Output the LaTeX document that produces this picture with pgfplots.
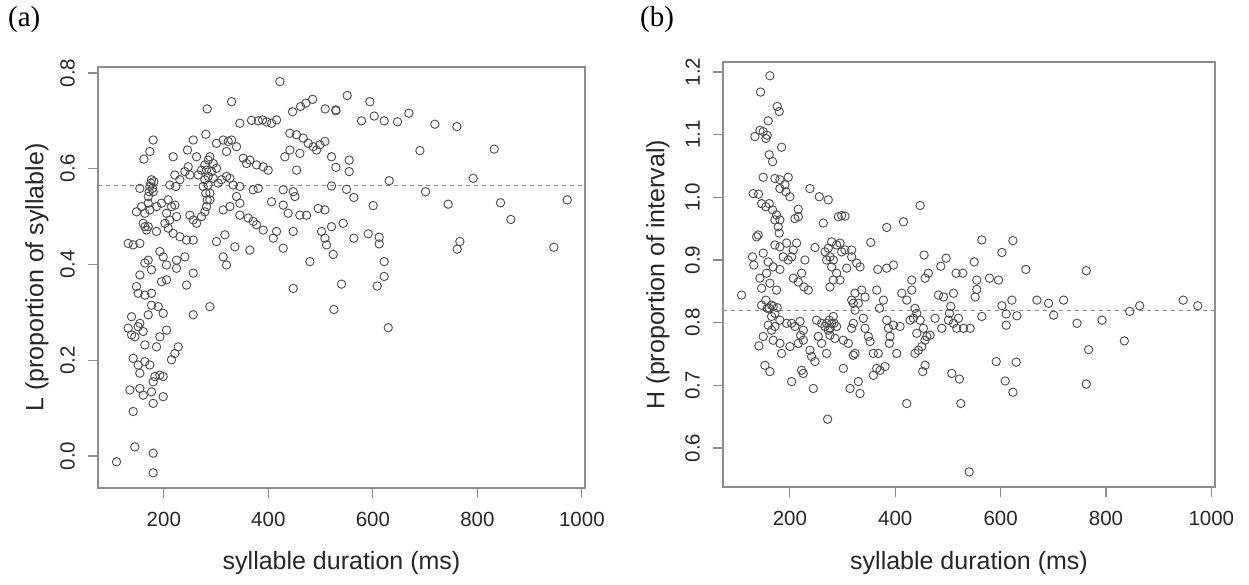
\documentclass[border=0pt]{standalone}
\usepackage{pgfplots}
\pgfplotsset{compat=1.18}
\usepackage{fontspec}
\setmainfont{Liberation Sans}
\newfontfamily\seriffont{Liberation Serif}
\definecolor{boxgray}{gray}{0.55}
\definecolor{ptgray}{gray}{0.3}
\pgfplotsset{rstyle/.style={
  scale only axis, anchor=south west,
  axis line style={draw=boxgray, line width=1.1pt},
  every tick/.style={draw=boxgray, line width=1.1pt},
  tick align=outside, major tick length=10pt,
  xtick pos=left, ytick pos=left, minor tick num=0,
  /pgf/number format/assume math mode=true,
  /pgf/number format/1000 sep={},
  tick label style={font=\fontsize{20.5}{20.5}\selectfont, text=black!85, inner sep=0pt},
  yticklabel style={rotate=90, anchor=south, /pgf/number format/fixed, /pgf/number format/fixed zerofill, /pgf/number format/precision=1},
  xticklabel style={anchor=north},
  yticklabel shift=13pt, xticklabel shift=14pt,
  xtick={200,400,600,800,1000},
  clip=false,
}}
\begin{document}
\begin{tikzpicture}
\path[use as bounding box] (0,0) rectangle (1249pt,584pt);
\begin{axis}[rstyle, at={(98pt,96pt)}, width=487pt, height=421pt,
  xmin=74, xmax=1006, ymin=-0.0668, ymax=0.8125,
  ytick={0,0.2,0.4,0.6,0.8}]
\addplot[boxgray, line width=1pt, dash pattern=on 4pt off 4pt] coordinates {(74,0.564) (1006,0.564)};
\addplot[only marks, mark=o, mark size=4.2pt, mark options={draw=ptgray, line width=0.9pt}] table {
x y
550.9 0.753
594.3 0.740
529.2 0.723
578.3 0.700
602.6 0.710
621.7 0.700
647.2 0.698
668.9 0.716
718.7 0.693
760.8 0.688
690.0 0.638
832.2 0.641
520.9 0.625
554.7 0.618
529.2 0.603
554.7 0.594
631.3 0.575
792.0 0.580
520.9 0.564
549.6 0.557
563.6 0.540
700.8 0.552
600.6 0.523
744.2 0.526
844.4 0.529
972.0 0.535
864.1 0.494
543.2 0.486
520.9 0.479
563.6 0.455
591.1 0.464
612.1 0.457
612.1 0.443
766.5 0.448
761.4 0.432
946.4 0.436
524.1 0.421
621.7 0.406
621.7 0.375
608.3 0.355
540.0 0.359
525.4 0.306
629.4 0.268
422.1 0.782
329.6 0.740
283.0 0.725
446.3 0.719
461.6 0.730
471.8 0.737
484.6 0.745
508.8 0.725
529.2 0.721
345.5 0.695
367.8 0.701
380.6 0.700
388.9 0.702
396.5 0.698
406.1 0.695
415.7 0.702
179.6 0.660
256.2 0.660
280.4 0.672
173.2 0.636
161.8 0.620
217.9 0.625
245.3 0.639
262.6 0.625
300.8 0.653
313.6 0.660
323.2 0.657
329.6 0.660
339.1 0.646
320.0 0.636
441.2 0.674
453.9 0.671
466.7 0.664
476.3 0.653
485.9 0.646
498.6 0.650
508.2 0.657
492.2 0.639
431.6 0.625
441.2 0.639
460.3 0.632
284.9 0.618
278.5 0.608
288.1 0.625
294.5 0.611
272.1 0.597
265.8 0.587
291.3 0.594
300.8 0.601
351.9 0.622
358.3 0.611
364.6 0.618
377.4 0.608
390.2 0.604
399.7 0.597
246.6 0.604
240.2 0.594
249.8 0.587
221.1 0.587
230.7 0.577
211.5 0.566
223.0 0.563
454.0 0.597
176.4 0.577
173.2 0.563
179.6 0.552
170.1 0.542
154.1 0.559
278.5 0.577
284.9 0.566
294.5 0.580
304.0 0.570
310.4 0.577
320.0 0.584
326.4 0.580
332.7 0.566
345.5 0.563
371.0 0.556
380.6 0.559
428.4 0.556
447.6 0.552
450.8 0.542
147.7 0.510
157.3 0.521
163.7 0.507
173.2 0.514
186.0 0.521
170.1 0.528
195.6 0.528
208.3 0.535
214.7 0.521
221.1 0.524
205.1 0.507
211.5 0.493
202.0 0.486
224.3 0.500
249.8 0.503
256.2 0.493
262.6 0.486
272.1 0.500
281.7 0.521
288.1 0.535
278.5 0.510
313.6 0.514
326.4 0.521
339.1 0.542
345.5 0.528
406.1 0.531
428.4 0.524
438.0 0.507
460.3 0.503
473.1 0.503
495.4 0.517
508.2 0.514
345.5 0.503
361.5 0.497
371.0 0.490
377.4 0.483
390.2 0.472
163.7 0.479
166.9 0.472
186.0 0.469
208.3 0.476
217.9 0.465
230.7 0.458
243.4 0.451
256.2 0.451
300.8 0.448
316.8 0.462
335.9 0.437
364.6 0.430
409.3 0.455
415.7 0.469
447.6 0.469
428.4 0.434
501.8 0.469
508.2 0.455
511.4 0.441
479.5 0.406
131.8 0.444
141.3 0.441
154.1 0.444
192.4 0.427
198.8 0.416
224.3 0.409
240.2 0.416
170.1 0.409
163.7 0.403
176.4 0.389
205.1 0.399
224.3 0.392
256.2 0.382
243.4 0.357
313.6 0.416
320.0 0.399
154.1 0.378
147.7 0.354
150.9 0.340
163.7 0.336
176.4 0.340
195.6 0.364
205.1 0.368
447.6 0.350
288.1 0.312
256.2 0.295
176.4 0.315
189.2 0.312
198.8 0.298
138.2 0.291
154.1 0.277
170.1 0.295
131.8 0.267
138.2 0.253
144.5 0.249
160.5 0.260
150.9 0.270
163.7 0.232
186.0 0.228
205.1 0.263
192.4 0.249
227.5 0.228
221.1 0.214
214.7 0.201
141.3 0.204
150.9 0.190
163.7 0.197
173.2 0.190
154.1 0.173
182.8 0.166
192.4 0.169
179.6 0.155
198.8 0.166
135.0 0.138
154.1 0.141
160.5 0.127
176.4 0.134
179.6 0.110
198.8 0.124
141.3 0.093
144.5 0.019
179.6 0.006
109.4 -0.012
179.6 -0.035
175.2 0.570
178.3 0.559
171.9 0.552
180.9 0.573
281.7 0.597
284.9 0.584
280.4 0.549
283.0 0.535
275.3 0.563
288.1 0.549
160.5 0.486
170.1 0.479
};
\end{axis}
\begin{axis}[rstyle, at={(723pt,97pt)}, width=492pt, height=425pt,
  xmin=73, xmax=1007, ymin=0.5378, ymax=1.216,
  ytick={0.6,0.7,0.8,0.9,1.0,1.1,1.2}]
\addplot[boxgray, line width=1pt, dash pattern=on 4pt off 4pt] coordinates {(73,0.820) (1007,0.820)};
\addplot[only marks, mark=o, mark size=4.2pt, mark options={draw=ptgray, line width=0.9pt}] table {
x y
162.0 1.194
144.3 1.168
175.9 1.145
179.7 1.137
158.8 1.122
149.3 1.105
143.0 1.107
133.5 1.097
154.4 1.094
156.9 1.099
184.2 1.080
160.7 1.068
167.1 1.057
130.3 1.006
140.5 1.005
149.3 1.032
171.5 1.030
181.0 1.028
190.5 1.020
196.8 1.032
181.0 1.014
192.4 1.009
200.0 1.001
238.0 1.014
255.8 1.001
272.9 0.996
263.4 0.959
146.2 0.990
154.4 0.985
160.7 0.990
167.1 0.980
174.7 0.972
181.0 0.964
171.5 0.964
177.8 0.953
179.7 0.943
136.7 0.937
139.8 0.940
215.9 0.981
215.9 0.969
209.5 0.966
298.2 0.971
304.6 0.970
291.9 0.969
383.8 0.952
415.5 0.961
447.2 0.987
171.5 0.924
181.0 0.921
193.7 0.927
187.3 0.905
196.8 0.900
203.2 0.905
206.4 0.916
212.7 0.927
228.5 0.900
247.6 0.920
266.6 0.913
276.1 0.905
129.0 0.905
131.6 0.892
149.3 0.911
158.8 0.897
168.3 0.889
181.0 0.885
222.2 0.879
206.4 0.871
215.9 0.865
226.6 0.857
234.9 0.852
279.2 0.929
288.7 0.924
295.1 0.927
298.2 0.913
304.6 0.916
317.2 0.916
279.2 0.889
288.7 0.879
282.4 0.868
295.1 0.868
307.8 0.887
276.1 0.857
326.8 0.895
333.1 0.889
317.2 0.905
353.4 0.928
366.7 0.885
383.8 0.887
396.5 0.892
412.3 0.847
421.8 0.836
431.3 0.852
431.3 0.868
143.0 0.871
146.2 0.855
155.7 0.879
162.0 0.863
174.7 0.852
108.1 0.844
146.2 0.828
154.4 0.836
160.7 0.823
168.3 0.826
175.9 0.824
165.2 0.810
181.0 0.804
193.7 0.799
203.2 0.799
209.5 0.794
219.0 0.802
225.4 0.788
158.8 0.796
165.2 0.788
171.5 0.794
149.3 0.778
168.3 0.772
181.0 0.767
184.2 0.751
200.0 0.762
215.9 0.767
141.1 0.763
152.5 0.732
162.0 0.722
220.3 0.780
225.4 0.772
238.0 0.756
241.2 0.746
247.6 0.738
222.2 0.724
225.4 0.719
203.2 0.706
244.4 0.695
250.7 0.804
260.2 0.799
266.6 0.794
272.9 0.788
279.2 0.799
282.4 0.810
288.7 0.794
276.1 0.780
285.6 0.775
269.7 0.751
253.9 0.778
260.2 0.767
301.4 0.772
310.9 0.767
320.4 0.799
323.6 0.820
329.9 0.831
323.6 0.847
336.3 0.852
342.6 0.841
317.2 0.791
323.6 0.751
320.4 0.748
339.4 0.807
342.6 0.791
348.9 0.778
352.1 0.770
301.4 0.727
314.1 0.695
329.9 0.706
333.1 0.687
364.8 0.852
369.9 0.823
377.5 0.836
383.8 0.804
387.0 0.791
388.9 0.767
396.5 0.796
390.1 0.778
402.8 0.751
409.1 0.794
358.4 0.716
364.8 0.727
371.1 0.724
380.6 0.730
358.4 0.751
367.9 0.751
421.8 0.671
271.6 0.646
428.2 0.804
434.5 0.807
447.2 0.804
440.8 0.815
437.6 0.823
437.6 0.751
444.0 0.756
440.8 0.783
156.9 0.823
165.2 0.828
171.5 0.815
269.7 0.799
276.1 0.791
283.7 0.799
274.8 0.804
272.9 0.919
269.7 0.900
282.4 0.900
317.2 0.836
320.4 0.831
454.7 0.908
496.5 0.903
486.4 0.890
462.9 0.879
456.6 0.871
515.5 0.879
528.2 0.879
564.3 0.932
623.3 0.931
602.4 0.912
549.8 0.897
648.0 0.885
762.7 0.883
554.8 0.868
554.8 0.853
578.9 0.871
596.0 0.868
551.7 0.841
510.5 0.847
482.0 0.844
491.5 0.841
621.4 0.836
668.9 0.836
691.1 0.831
719.6 0.836
602.4 0.827
610.6 0.814
630.9 0.811
610.6 0.796
564.3 0.810
700.6 0.812
864.1 0.827
845.1 0.818
946.5 0.836
974.3 0.827
505.4 0.826
475.6 0.807
501.0 0.804
510.5 0.799
488.3 0.791
516.8 0.791
529.5 0.791
542.2 0.791
502.9 0.815
520.0 0.807
744.9 0.799
792.5 0.804
834.9 0.771
767.1 0.757
453.4 0.791
466.1 0.780
456.6 0.772
450.3 0.762
459.8 0.778
591.6 0.738
629.6 0.737
507.3 0.719
521.9 0.710
608.7 0.707
623.3 0.689
524.4 0.671
456.6 0.732
452.2 0.722
762.7 0.702
540.3 0.562
};
\end{axis}
\node[font=\fontsize{25}{25}\selectfont, text=black!85] at (341.5pt,21pt) {syllable duration (ms)};
\node[font=\fontsize{25}{25}\selectfont, text=black!85] at (969pt,21pt) {syllable duration (ms)};
\node[rotate=90, font=\fontsize{25}{25}\selectfont, text=black!85] at (37pt,306.5pt) {L (proportion of syllable)};
\node[rotate=90, font=\fontsize{25}{25}\selectfont, text=black!85] at (658pt,309.5pt) {H (proportion of interval)};
\node[font=\seriffont\fontsize{29}{29}\selectfont, anchor=west, inner sep=0pt] at (8pt,564pt) {(a)};
\node[font=\seriffont\fontsize{29}{29}\selectfont, anchor=west, inner sep=0pt] at (640pt,564pt) {(b)};
\end{tikzpicture}
\end{document}
